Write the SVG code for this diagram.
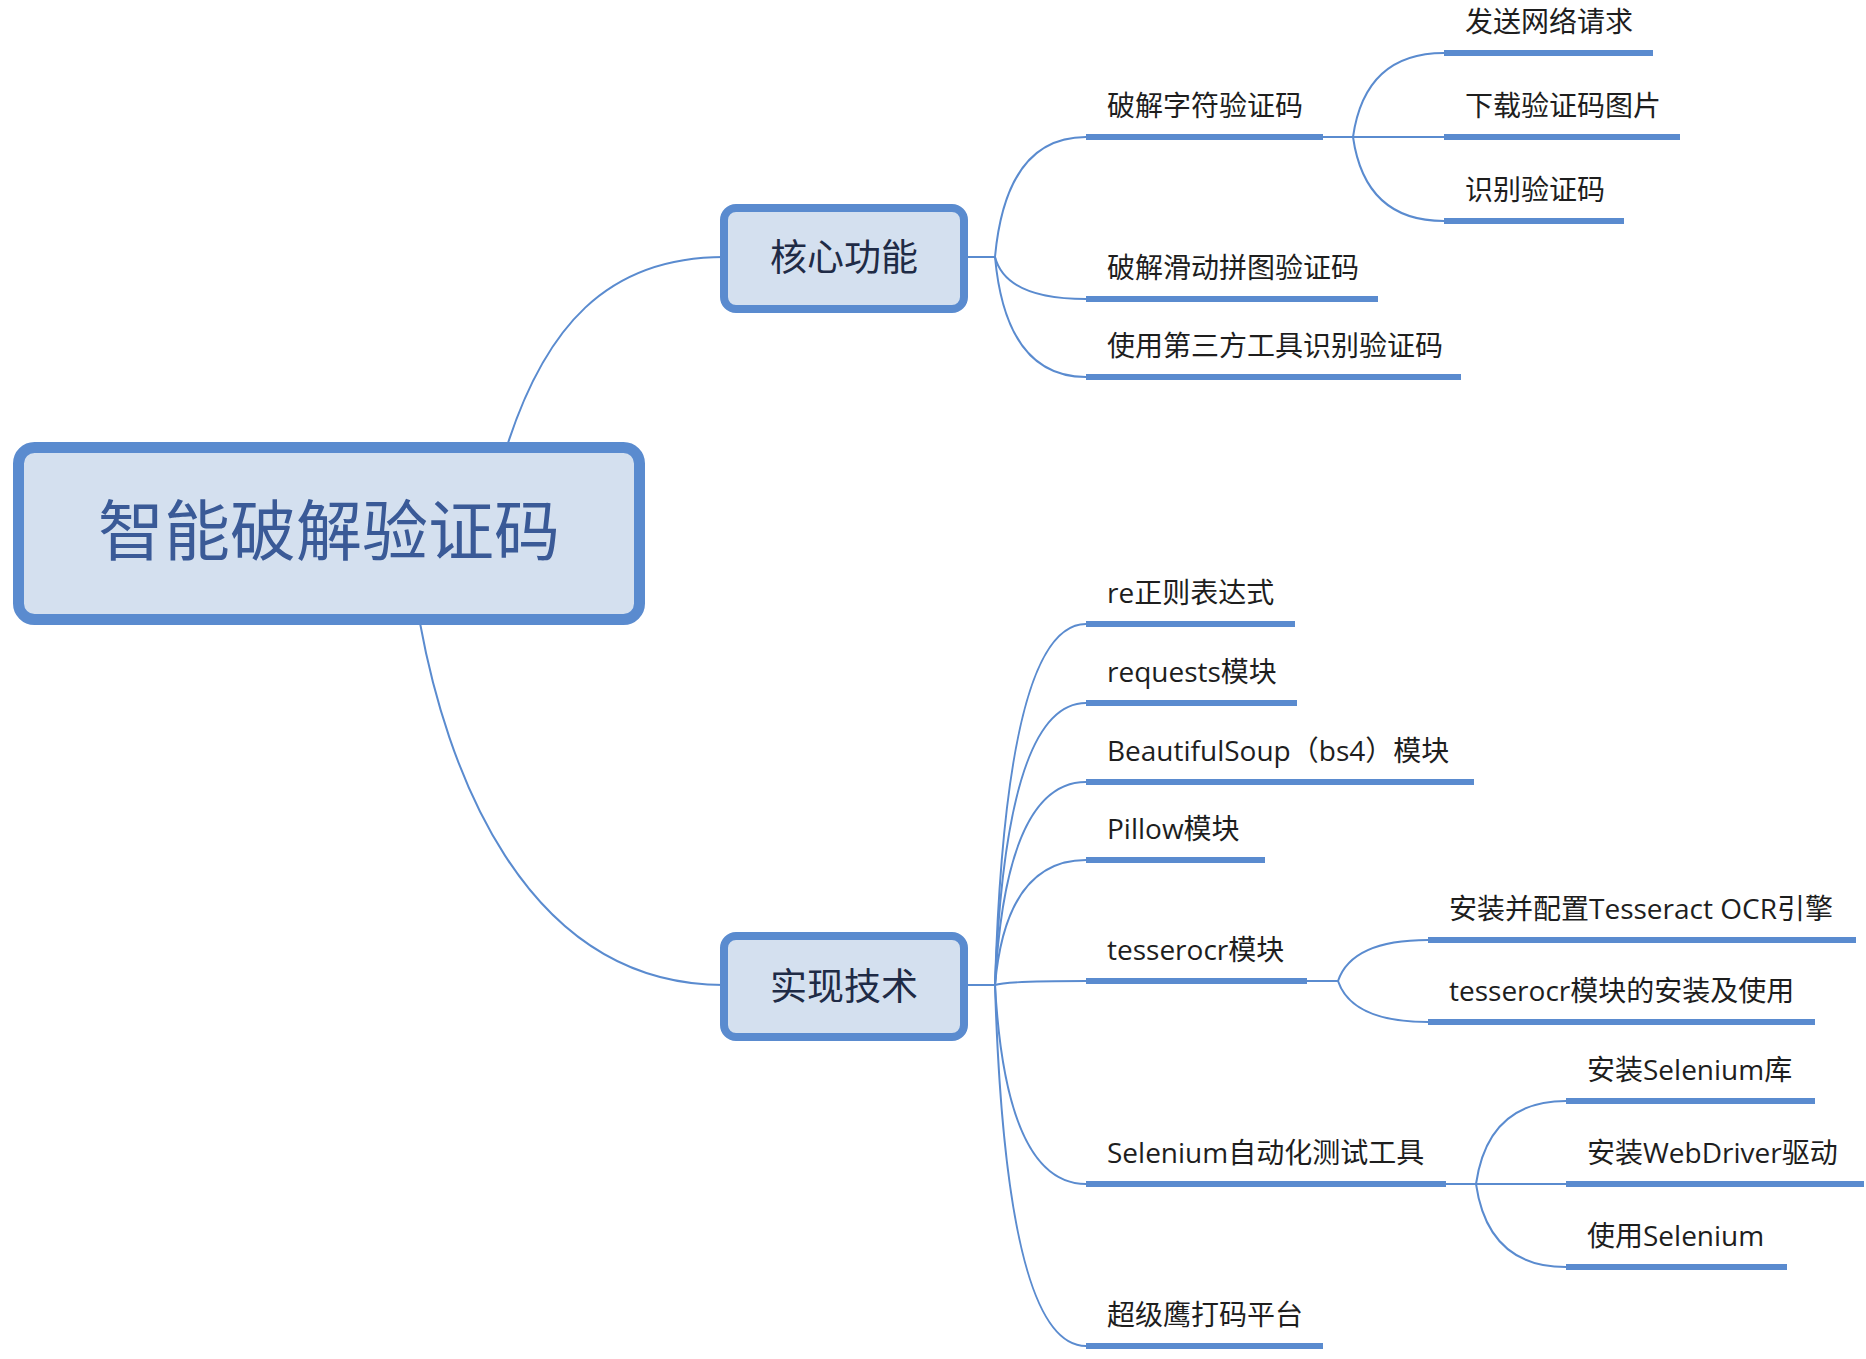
<svg xmlns="http://www.w3.org/2000/svg" width="1866" height="1359" viewBox="0 0 1866 1359">
<style>
.bg{fill:#ffffff}
.box{fill:#d4e0ef;stroke:#5a8bcf}
.conn{fill:none;stroke:#5a8bcf;stroke-width:2}
.ul{stroke:#5a8bcf;stroke-width:6;stroke-linecap:butt}
.t{font-family:"Open Sans","Noto Sans CJK SC",sans-serif;font-size:28px;fill:#1e1e1e}
.main{font-family:"Open Sans","Noto Sans CJK SC",sans-serif;font-size:37px;fill:#1f2b46;text-anchor:middle}
.root{font-family:"Open Sans","Noto Sans CJK SC",sans-serif;font-size:66px;fill:#3a5a97;text-anchor:middle}
</style>
<rect class="bg" x="0" y="0" width="1866" height="1359"/>
<g id="connectors">
  <path class="conn" d="M508 443 C545 330 605 257 724 257"/>
  <path class="conn" d="M420 623 C445 760 520 985 724 985"/>
  <path class="conn" d="M964 257 L995 257"/>
  <path class="conn" d="M995 257 Q1006 137 1086 137"/>
  <path class="conn" d="M995 257 Q1006 299 1086 299"/>
  <path class="conn" d="M995 257 Q1006 377 1086 377"/>
  <path class="conn" d="M1323 137 L1353 137"/>
  <path class="conn" d="M1353 137 Q1365 53 1444 53"/>
  <path class="conn" d="M1353 137 L1444 137"/>
  <path class="conn" d="M1353 137 Q1365 221 1444 221"/>
  <path class="conn" d="M964 985 L995 985"/>
  <path class="conn" d="M995 985 Q1006 624 1086 624"/>
  <path class="conn" d="M995 985 Q1006 703 1086 703"/>
  <path class="conn" d="M995 985 Q1006 782 1086 782"/>
  <path class="conn" d="M995 985 Q1006 860 1086 860"/>
  <path class="conn" d="M995 985 Q1006 981 1086 981"/>
  <path class="conn" d="M995 985 Q1006 1184 1086 1184"/>
  <path class="conn" d="M995 985 Q1006 1346 1086 1346"/>
  <path class="conn" d="M1307 981 L1338 981"/>
  <path class="conn" d="M1338 981 Q1352 940 1428 940"/>
  <path class="conn" d="M1338 981 Q1352 1022 1428 1022"/>
  <path class="conn" d="M1446 1184 L1476 1184"/>
  <path class="conn" d="M1476 1184 Q1488 1101 1566 1101"/>
  <path class="conn" d="M1476 1184 L1566 1184"/>
  <path class="conn" d="M1476 1184 Q1488 1267 1566 1267"/>
</g>
<g id="root">
  <rect class="box" x="18.5" y="447.5" width="621" height="172" rx="16" stroke-width="11"/>
  <text class="root" x="329" y="555">智能破解验证码</text>
</g>
<g id="core">
  <rect class="box" x="724" y="208" width="240" height="101" rx="12" stroke-width="8"/>
  <text class="main" x="844" y="271">核心功能</text>
</g>
<g id="tech">
  <rect class="box" x="724" y="936" width="240" height="101" rx="12" stroke-width="8"/>
  <text class="main" x="844" y="1000">实现技术</text>
</g>
<g id="n-char">
  <line class="ul" x1="1086" y1="137" x2="1323" y2="137"/>
  <text class="t" x="1107" y="116">破解字符验证码</text>
</g>
<g id="n-send">
  <line class="ul" x1="1444" y1="53" x2="1653" y2="53"/>
  <text class="t" x="1465" y="32">发送网络请求</text>
</g>
<g id="n-download">
  <line class="ul" x1="1444" y1="137" x2="1680" y2="137"/>
  <text class="t" x="1465" y="116">下载验证码图片</text>
</g>
<g id="n-recog">
  <line class="ul" x1="1444" y1="221" x2="1624" y2="221"/>
  <text class="t" x="1465" y="200">识别验证码</text>
</g>
<g id="n-slide">
  <line class="ul" x1="1086" y1="299" x2="1378" y2="299"/>
  <text class="t" x="1107" y="278">破解滑动拼图验证码</text>
</g>
<g id="n-third">
  <line class="ul" x1="1086" y1="377" x2="1461" y2="377"/>
  <text class="t" x="1107" y="356">使用第三方工具识别验证码</text>
</g>
<g id="n-re">
  <line class="ul" x1="1086" y1="624" x2="1295" y2="624"/>
  <text class="t" x="1107" y="603">re正则表达式</text>
</g>
<g id="n-requests">
  <line class="ul" x1="1086" y1="703" x2="1297" y2="703"/>
  <text class="t" x="1107" y="682">requests模块</text>
</g>
<g id="n-bs4">
  <line class="ul" x1="1086" y1="782" x2="1474" y2="782"/>
  <text class="t" x="1107" y="761">BeautifulSoup（bs4）模块</text>
</g>
<g id="n-pillow">
  <line class="ul" x1="1086" y1="860" x2="1265" y2="860"/>
  <text class="t" x="1107" y="839">Pillow模块</text>
</g>
<g id="n-tesserocr">
  <line class="ul" x1="1086" y1="981" x2="1307" y2="981"/>
  <text class="t" x="1107" y="960">tesserocr模块</text>
</g>
<g id="n-tess-install">
  <line class="ul" x1="1428" y1="940" x2="1856" y2="940"/>
  <text class="t" x="1449" y="919">安装并配置Tesseract OCR引擎</text>
</g>
<g id="n-tess-use">
  <line class="ul" x1="1428" y1="1022" x2="1815" y2="1022"/>
  <text class="t" x="1449" y="1001">tesserocr模块的安装及使用</text>
</g>
<g id="n-selenium">
  <line class="ul" x1="1086" y1="1184" x2="1446" y2="1184"/>
  <text class="t" x="1107" y="1163">Selenium自动化测试工具</text>
</g>
<g id="n-sel-install">
  <line class="ul" x1="1566" y1="1101" x2="1815" y2="1101"/>
  <text class="t" x="1587" y="1080">安装Selenium库</text>
</g>
<g id="n-webdriver">
  <line class="ul" x1="1566" y1="1184" x2="1864" y2="1184"/>
  <text class="t" x="1587" y="1163">安装WebDriver驱动</text>
</g>
<g id="n-sel-use">
  <line class="ul" x1="1566" y1="1267" x2="1787" y2="1267"/>
  <text class="t" x="1587" y="1246">使用Selenium</text>
</g>
<g id="n-chaojiying">
  <line class="ul" x1="1086" y1="1346" x2="1323" y2="1346"/>
  <text class="t" x="1107" y="1325">超级鹰打码平台</text>
</g>
</svg>
